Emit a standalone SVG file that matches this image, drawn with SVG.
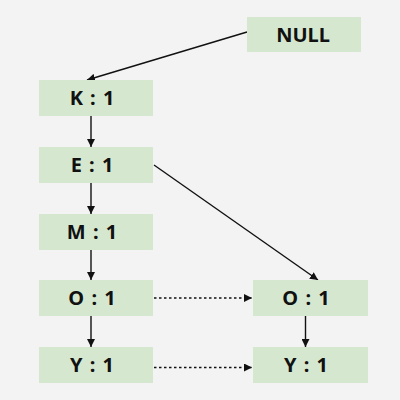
<svg xmlns="http://www.w3.org/2000/svg" width="400" height="400" viewBox="0 0 400 400">
<defs>
<style>
.box{fill:#d5e8cf}
.lbl{font-family:"Noto Sans","DejaVu Sans",sans-serif;font-weight:bold;font-size:20px;fill:#111;text-anchor:middle;word-spacing:2px}
.ln{stroke:#111;stroke-width:1.4;fill:none}
.dot{stroke:#111;stroke-width:1.4;fill:none;stroke-dasharray:2.5 2.5}
</style>
<marker id="ah" viewBox="0 0 10 10" refX="10" refY="5" markerWidth="8" markerHeight="8" markerUnits="userSpaceOnUse" orient="auto">
<path d="M0,0 L10,5 L0,10 z" fill="#111"/>
</marker>
</defs>
<rect width="400" height="400" fill="#f3f3f3"/>
<g id="connectors">
<line class="ln" x1="247" y1="32" x2="87" y2="80" marker-end="url(#ah)"/>
<line class="ln" x1="91" y1="116" x2="91" y2="147" marker-end="url(#ah)"/>
<line class="ln" x1="91" y1="183" x2="91" y2="214" marker-end="url(#ah)"/>
<line class="ln" x1="91" y1="250" x2="91" y2="280" marker-end="url(#ah)"/>
<line class="ln" x1="91" y1="316" x2="91" y2="347" marker-end="url(#ah)"/>
<line class="ln" x1="154" y1="165" x2="318" y2="280" marker-end="url(#ah)"/>
<line class="ln" x1="305.5" y1="316" x2="305.5" y2="347" marker-end="url(#ah)"/>
<line class="dot" x1="154" y1="298" x2="252" y2="298" marker-end="url(#ah)"/>
<line class="dot" x1="154" y1="367.5" x2="252" y2="367.5" marker-end="url(#ah)"/>
</g>
<g id="null"><rect class="box" x="247" y="17" width="114" height="35"/><text class="lbl" x="303" y="41.5">NULL</text></g>
<g id="k1"><rect class="box" x="39" y="80" width="114" height="36"/><text class="lbl" x="92" y="105">K : 1</text></g>
<g id="e1"><rect class="box" x="39" y="147" width="114" height="36"/><text class="lbl" x="92" y="172">E : 1</text></g>
<g id="m1"><rect class="box" x="39" y="214" width="114" height="36"/><text class="lbl" x="92" y="239">M : 1</text></g>
<g id="o1"><rect class="box" x="39" y="280" width="114" height="36"/><text class="lbl" x="92" y="305">O : 1</text></g>
<g id="y1"><rect class="box" x="39" y="347" width="114" height="36"/><text class="lbl" x="92" y="372">Y : 1</text></g>
<g id="o2"><rect class="box" x="253" y="280" width="115" height="36"/><text class="lbl" x="306" y="305">O : 1</text></g>
<g id="y2"><rect class="box" x="253" y="347" width="115" height="36"/><text class="lbl" x="306" y="372">Y : 1</text></g>
</svg>
